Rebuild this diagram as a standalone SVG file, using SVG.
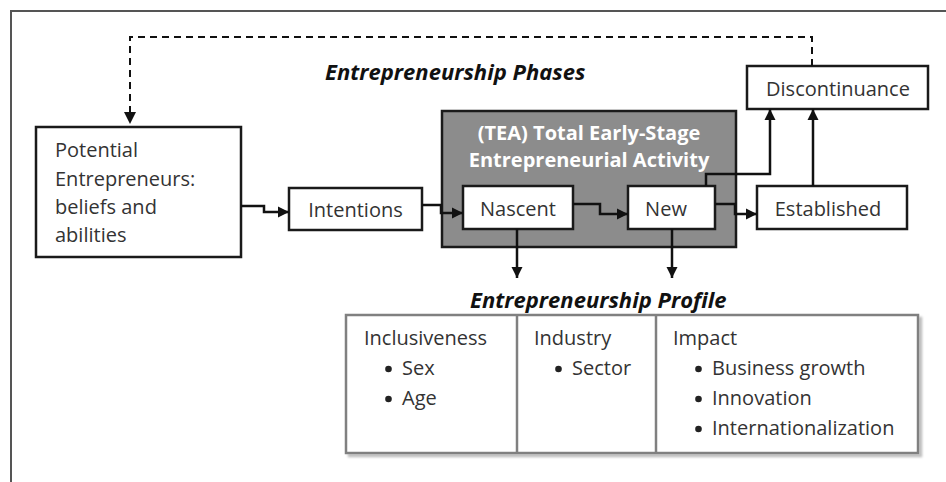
<svg xmlns="http://www.w3.org/2000/svg" width="946" height="482" viewBox="0 0 946 482">
<defs>
<marker id="ah" markerUnits="userSpaceOnUse" markerWidth="14" markerHeight="14" viewBox="0 0 14 14" refX="13" refY="7" orient="auto">
<path d="M2,1.5 L13,7 L2,12.5 Z" fill="#111"/>
</marker>
<filter id="sh" x="-5%" y="-5%" width="110%" height="115%">
<feDropShadow dx="3" dy="3" stdDeviation="1.2" flood-color="#000" flood-opacity="0.25"/>
</filter>
</defs>
<style>
.box{fill:#fff;stroke:#1a1a1a;stroke-width:2.5}
.t{font-family:"Open Sans","Liberation Sans",sans-serif;font-size:20px;fill:#333}
.h{font-family:"Open Sans","Liberation Sans",sans-serif;font-size:22px;font-weight:bold;font-style:italic;fill:#111}
.tea{font-family:"Open Sans","Liberation Sans",sans-serif;font-size:20px;font-weight:bold;fill:#fff}
.c{fill:none;stroke:#111;stroke-width:2.5}
.d{fill:none;stroke:#111;stroke-width:2;stroke-dasharray:7,5}
.pl{stroke:#808080;stroke-width:2.5}
.b{fill:#222}
</style>
<rect width="946" height="482" fill="#fff"/>
<path d="M11,482 V11 H946" fill="none" stroke="#555" stroke-width="2"/>

<text class="h" x="325" y="80">Entrepreneurship Phases</text>

<g id="potential">
<rect class="box" x="36" y="127" width="205" height="130"/>
<text class="t" x="55" y="157">Potential</text>
<text class="t" x="55" y="186">Entrepreneurs:</text>
<text class="t" x="55" y="214">beliefs and</text>
<text class="t" x="55" y="242">abilities</text>
</g>

<g id="intentions">
<rect class="box" x="289" y="188" width="133" height="42"/>
<text class="t" x="355.5" y="217" text-anchor="middle">Intentions</text>
</g>

<g id="tea">
<rect x="442" y="111" width="294" height="136" fill="#8c8c8c" stroke="#1a1a1a" stroke-width="2.5"/>
<text class="tea" x="589" y="140" text-anchor="middle">(TEA) Total Early-Stage</text>
<text class="tea" x="589" y="167" text-anchor="middle">Entrepreneurial Activity</text>
</g>

<g id="nascent">
<rect class="box" x="463" y="186" width="110" height="43"/>
<text class="t" x="518" y="216" text-anchor="middle">Nascent</text>
</g>

<g id="new">
<rect class="box" x="628" y="186" width="87" height="43"/>
<text class="t" x="666" y="216" text-anchor="middle">New</text>
</g>

<g id="established">
<rect class="box" x="757" y="186" width="150" height="43"/>
<text class="t" x="828" y="216" text-anchor="middle">Established</text>
</g>

<g id="discontinuance">
<rect class="box" x="747" y="66" width="181" height="43"/>
<text class="t" x="838" y="96" text-anchor="middle">Discontinuance</text>
</g>

<g id="connectors">
<path class="c" d="M241,206 H264 V212 H289" marker-end="url(#ah)"/>
<path class="c" d="M422,205 H441 V213 H463" marker-end="url(#ah)"/>
<path class="c" d="M573,204 H600 V214 H628" marker-end="url(#ah)"/>
<path class="c" d="M715,204 H735 V214 H757" marker-end="url(#ah)"/>
<path class="c" d="M706,186 V174 H770 V109" marker-end="url(#ah)"/>
<path class="c" d="M813,186 V109" marker-end="url(#ah)"/>
<path class="c" d="M517,229 V278" marker-end="url(#ah)"/>
<path class="c" d="M672,229 V278" marker-end="url(#ah)"/>
<path class="d" d="M812,66 V37 H130 V112"/>
<path d="M124,112 L136,112 L130,124 Z" fill="#111"/>
</g>

<text class="h" x="470" y="308">Entrepreneurship Profile</text>

<g id="profile">
<rect x="346" y="315" width="572" height="138" fill="#fff" stroke="#808080" stroke-width="2.5" filter="url(#sh)"/>
<line class="pl" x1="517" y1="315" x2="517" y2="453"/>
<line class="pl" x1="656" y1="315" x2="656" y2="453"/>
<text class="t" x="364" y="345">Inclusiveness</text>
<circle class="b" cx="388.5" cy="369" r="3.3"/><text class="t" x="402" y="375">Sex</text>
<circle class="b" cx="388.5" cy="399" r="3.3"/><text class="t" x="402" y="405">Age</text>
<text class="t" x="534" y="345">Industry</text>
<circle class="b" cx="558.5" cy="369" r="3.3"/><text class="t" x="572" y="375">Sector</text>
<text class="t" x="673" y="345">Impact</text>
<circle class="b" cx="698.5" cy="369" r="3.3"/><text class="t" x="712" y="375">Business growth</text>
<circle class="b" cx="698.5" cy="399" r="3.3"/><text class="t" x="712" y="405">Innovation</text>
<circle class="b" cx="698.5" cy="429" r="3.3"/><text class="t" x="712" y="435">Internationalization</text>
</g>
</svg>
